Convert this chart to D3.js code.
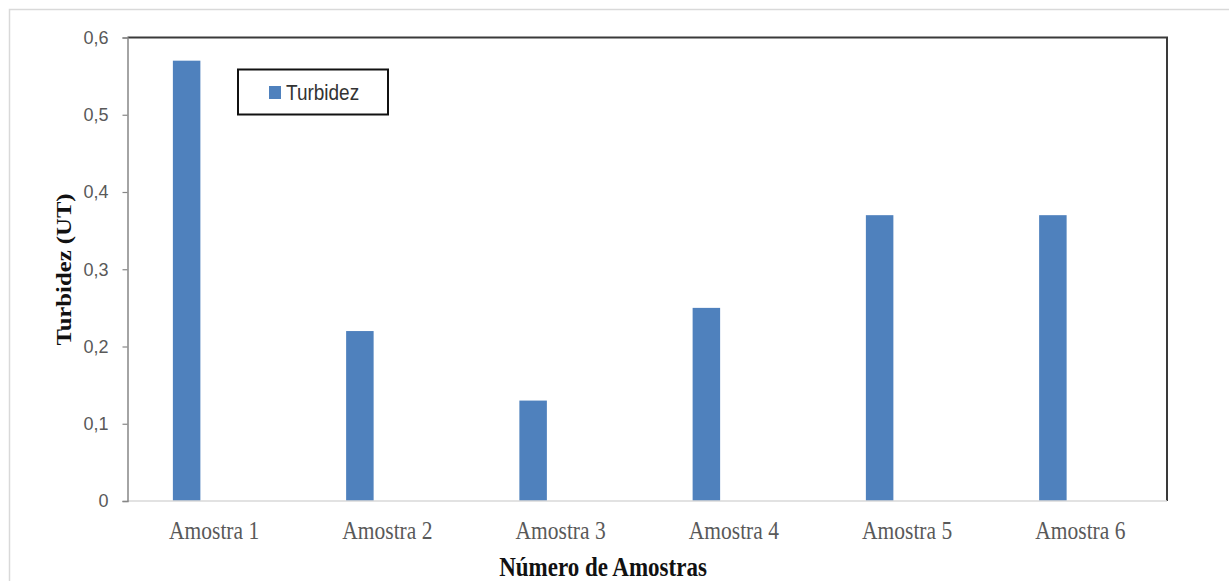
<!DOCTYPE html>
<html><head><meta charset="utf-8">
<script src="https://cdn.jsdelivr.net/npm/d3@7"></script>
<style>
html,body{margin:0;padding:0;background:#fff;overflow:hidden}
</style></head>
<body>
<svg id="chart" width="1229" height="581"></svg>
<script>
const categories = ["Amostra 1","Amostra 2","Amostra 3","Amostra 4","Amostra 5","Amostra 6"];
const turbidez = [0.57, 0.22, 0.13, 0.25, 0.37, 0.37];
const seriesName = "Turbidez";
const yTicks = [0, 0.1, 0.2, 0.3, 0.4, 0.5, 0.6];
const yTitle = "Turbidez (UT)";
const xTitle = "Número de Amostras";

const svg = d3.select("#chart");
const L = 127.5, R = 1167, T = 37.5, B = 501;
const fmt = d => d === 0 ? "0" : d3.format(".1f")(d).replace(".", ",");

// outer chart border
svg.append("rect").attr("x", 9.5).attr("y", 9.5).attr("width", 1300).attr("height", 700)
  .attr("fill", "none").attr("stroke", "#d9d9d9").attr("stroke-width", 1.5);

const x0 = d3.scaleBand().domain(categories).range([L, R]).paddingInner(0).paddingOuter(0);
const x1 = d3.scaleBand().domain([0, 1, 2]).range([0, x0.bandwidth()]).paddingInner(0).paddingOuter(1.65);
const y = d3.scaleLinear().domain([0, 0.6]).range([B, T]);

// plot frame (top and right dark)
svg.append("path").attr("d", `M${L},${T}H${R}V${B}`).attr("fill", "none")
  .attr("stroke", "#3a3a3a").attr("stroke-width", 2);

// bars
svg.append("g").selectAll("rect").data(categories.map((c, i) => ({c, v: turbidez[i]})))
  .join("rect")
  .attr("x", d => x0(d.c) + x1(0))
  .attr("width", x1.bandwidth())
  .attr("y", d => y(d.v))
  .attr("height", d => y(0) - y(d.v))
  .attr("fill", "#4f81bd");

// x axis line
svg.append("line").attr("x1", L).attr("x2", R).attr("y1", B).attr("y2", B)
  .attr("stroke", "#d9d9d9").attr("stroke-width", 1.5);

// y axis
const yAxis = svg.append("g").attr("transform", `translate(${L},0)`)
  .call(d3.axisLeft(y).tickValues(yTicks).tickFormat(fmt).tickSize(5).tickPadding(14));
yAxis.select(".domain").attr("stroke", "#868686").attr("stroke-width", 1.5);
yAxis.selectAll(".tick line").attr("stroke", "#868686").attr("stroke-width", 1.2);
yAxis.selectAll(".tick text").attr("fill", "#595959")
  .style("font-family", "'Liberation Sans', Arial, sans-serif").style("font-size", "18px");

// x labels
svg.append("g").selectAll("text").data(categories).join("text")
  .attr("transform", d => `translate(${x0(d) + x0.bandwidth() / 2},539) scale(1,1.18)`)
  .attr("text-anchor", "middle")
  .attr("fill", "#595959")
  .style("font-family", "'Liberation Serif', 'Times New Roman', serif").style("font-size", "21.5px")
  .text(d => d);

// x title
svg.append("text")
  .attr("transform", `translate(603,575.5) scale(1,1.15)`)
  .attr("text-anchor", "middle").attr("fill", "#111")
  .style("font-family", "'Liberation Serif', 'Times New Roman', serif")
  .style("font-size", "23px").style("font-weight", "bold")
  .text(xTitle);

// y title
svg.append("text")
  .attr("transform", `translate(71,269.5) scale(1,1.15) rotate(-90)`)
  .attr("text-anchor", "middle").attr("fill", "#111")
  .style("font-family", "'Liberation Serif', 'Times New Roman', serif")
  .style("font-size", "21.5px").style("font-weight", "bold")
  .text(yTitle);

// legend
const lg = svg.append("g");
lg.append("rect").attr("x", 238).attr("y", 69.5).attr("width", 150).attr("height", 45)
  .attr("fill", "#fff").attr("stroke", "#111").attr("stroke-width", 2);
lg.append("rect").attr("x", 269).attr("y", 86).attr("width", 12).attr("height", 13).attr("fill", "#4f81bd");
lg.append("text").attr("transform", "translate(286,99.5) scale(1,1.12)")
  .attr("fill", "#333")
  .style("font-family", "'Liberation Sans', Arial, sans-serif").style("font-size", "19px")
  .text(seriesName);
</script>
</body></html>
